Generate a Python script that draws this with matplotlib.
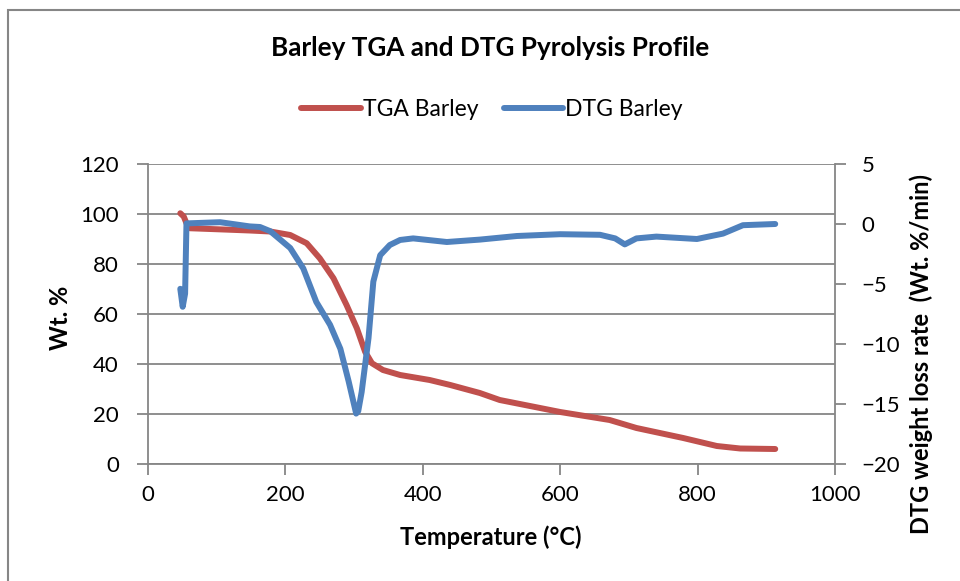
import matplotlib
matplotlib.use("Agg")
import matplotlib.pyplot as plt
from matplotlib.patches import Rectangle
from matplotlib.lines import Line2D

plt.rcParams["font.family"] = ["Lato", "DejaVu Sans"]

# TGA curve (Wt. %) vs temperature (°C)
tga_temp = [47, 52, 56, 61, 110, 148, 178, 207, 231, 250, 270, 289, 304, 316, 326,
            342, 367, 410, 440, 483, 512, 600, 672, 711, 779, 828, 862, 913]
tga_wt = [100.3, 99, 96.3, 94.3, 93.8, 93.4, 93.0, 91.6, 88.3, 82.3, 74.3, 63.6, 54.3, 44.9, 40.3,
          37.6, 35.6, 33.6, 31.6, 28.4, 25.6, 20.8, 17.6, 14.4, 10.4, 7.2, 6.2, 6.0]

# DTG curve (Wt. %/min) vs temperature (°C)
dtg_temp = [47, 50.5, 54, 56, 105, 148, 163, 178, 207, 226, 245, 265, 280, 292, 303,
            306, 311, 321, 328, 338, 352, 367, 386, 435, 483, 537, 600, 658, 680,
            694, 711, 740, 799, 837, 866, 913]
dtg_rate = [-5.4, -6.9, -5.8, 0.05, 0.15, -0.2, -0.25, -0.6, -2.0, -3.7, -6.5, -8.4, -10.4,
            -13.1, -15.8, -15.6, -14.0, -9.5, -4.8, -2.6, -1.75, -1.33, -1.2, -1.5, -1.3,
            -1.0, -0.85, -0.9, -1.2, -1.7, -1.2, -1.05, -1.25, -0.8, -0.1, 0.0]

left_ticks = [0, 20, 40, 60, 80, 100, 120]
right_ticks = [-20, -15, -10, -5, 0, 5]
x_ticks = [0, 200, 400, 600, 800, 1000]

red = "#C0504D"
blue = "#4F81BD"
grey = "#868686"

fig = plt.figure(figsize=(9.6, 5.81), dpi=100)
W, H = 960, 581

# outer chart border
fig.patches.append(Rectangle((8 / W, -0.1), 1.2, 1 - 10 / H + 0.1, transform=fig.transFigure,
                             fill=False, edgecolor=grey, linewidth=1.5))

ax = fig.add_axes([148 / W, 1 - 464 / H, (835 - 148) / W, (464 - 164) / H])
ax.plot(tga_temp, tga_wt, color=red, linewidth=4.3, solid_capstyle="round",
        solid_joinstyle="round")
ax.set_xlim(0, 1000)
ax.set_ylim(0, 120)
ax.set_xticks(x_ticks)
ax.set_yticks(left_ticks)
ax.grid(axis="y", color=grey, linewidth=1.3)
ax.set_axisbelow(True)
for s in ["top", "right"]:
    ax.spines[s].set_visible(False)
for s in ["left", "bottom"]:
    ax.spines[s].set_color(grey)
    ax.spines[s].set_linewidth(1.3)
ax.tick_params(axis="y", length=8, width=1.3, color=grey, pad=13, labelsize=16)
ax.tick_params(axis="x", length=8, width=1.3, color=grey, pad=7, labelsize=16)

ax2 = ax.twinx()
ax2.plot(dtg_temp, dtg_rate, color=blue, linewidth=4.3, solid_capstyle="round",
         solid_joinstyle="round")
ax2.set_ylim(-20, 5)
ax2.set_yticks(right_ticks)
for s in ["top", "left", "bottom"]:
    ax2.spines[s].set_visible(False)
ax2.spines["right"].set_color(grey)
ax2.spines["right"].set_linewidth(1.3)
ax2.tick_params(axis="y", length=8, width=1.3, color=grey, pad=11, labelsize=16)

fig.text(490 / W, 1 - 48 / H, "Barley TGA and DTG Pyrolysis Profile", ha="center", va="center",
         fontsize=18.8, fontweight="bold")
fig.text(491 / W, 1 - 537 / H, "Temperature (°C)", ha="center", va="center",
         fontsize=17, fontweight="bold")
fig.text(60 / W, 1 - 318 / H, "Wt. %", ha="center", va="center", rotation=90,
         fontsize=17, fontweight="bold")
fig.text(921 / W, 1 - 354 / H, "DTG weight loss rate  (Wt. %/min)", ha="center", va="center",
         rotation=90, fontsize=17, fontweight="bold")

handles = [Line2D([], [], color=red, linewidth=4.3, solid_capstyle="round"),
           Line2D([], [], color=blue, linewidth=4.3, solid_capstyle="round")]
fig.legend(handles, ["TGA Barley", "DTG Barley"], loc="center", bbox_to_anchor=(492 / W, 1 - 110 / H),
           ncol=2, frameon=False, fontsize=16.5, handlelength=2.6, handletextpad=0.1,
           columnspacing=1.1)

fig.savefig("out.png", dpi=100)
